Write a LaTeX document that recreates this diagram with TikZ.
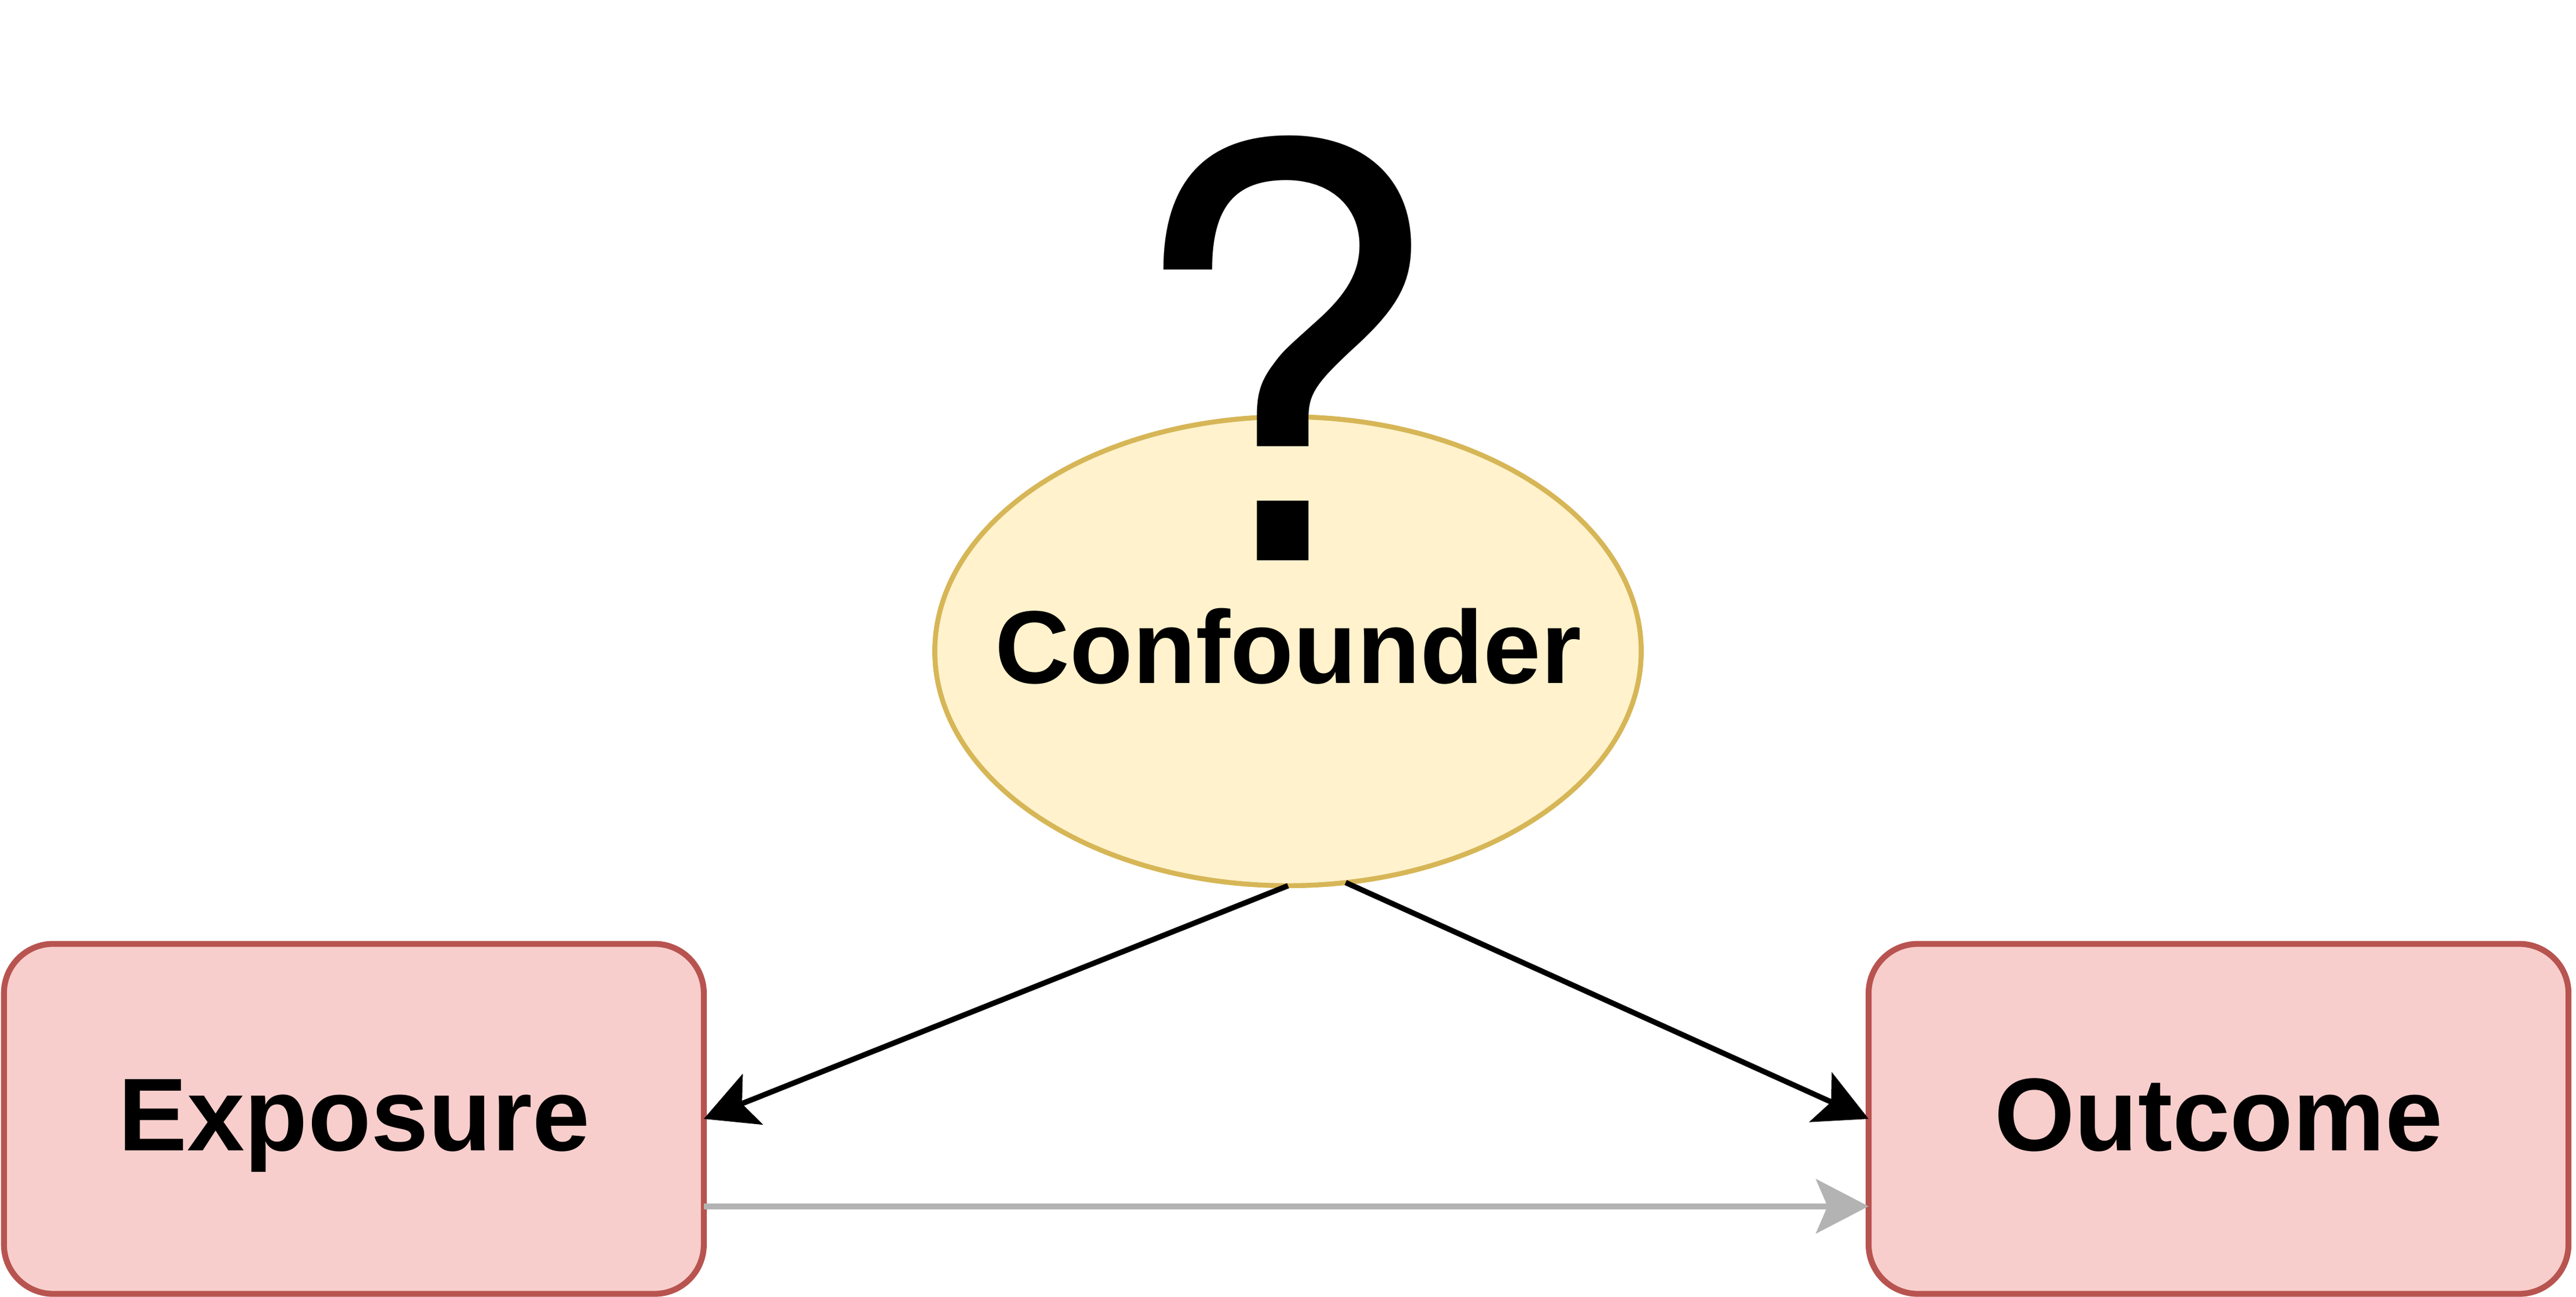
\documentclass[tikz,border=0pt]{standalone}
\usepackage{fontspec}
\setmainfont{Liberation Sans}
\newfontfamily\qmarkfont{TeX Gyre Heros}
\usetikzlibrary{shapes.geometric,arrows.meta}
\definecolor{boxfill}{HTML}{F8CECC}
\definecolor{boxline}{HTML}{B85450}
\definecolor{conffill}{HTML}{FFF2CC}
\definecolor{confline}{HTML}{D6B656}
\definecolor{directline}{HTML}{B3B3B3}

\begin{document}
\begin{tikzpicture}[x=1pt,y=1pt,
		varbox/.style={rectangle,rounded corners=30pt,draw=boxline,fill=boxfill,
			line width=3.6pt,minimum width=426pt,minimum height=213pt,
			inner sep=0pt,outer sep=0pt,font=\fontsize{63}{70}\selectfont\bfseries,
			text height=52pt,text depth=13pt},
		confbox/.style={ellipse,draw=confline,fill=conffill,line width=3pt,
			minimum width=430pt,minimum height=285.4pt,inner sep=0pt,outer sep=0pt},
		causal/.style={-{Stealth[length=32pt,width=33pt,inset=7pt]},line width=3.3pt}]
		\useasboundingbox (0,0) rectangle (1568,789.33);
		% Exposure and outcome boxes
		\node[varbox] (E) at (215.4,108.4) {Exposure};
		\node[varbox] (O) at (1350.4,108.4) {Outcome};
		% Confounder ellipse with question mark
		\node[confbox,label={[font=\fontsize{63}{70}\selectfont\bfseries,
			text height=52pt,text depth=13pt]center:Confounder}] (C) at (784,393) {};
		\node[anchor=base,inner sep=0pt,font=\fontsize{349}{349}\qmarkfont] (Q) at (781,448.3) {?};
		% Arrows
		\draw[causal] (C.south) -- (E.east);
		\draw[causal] (C.-76) -- (O.west);
		\draw[causal,draw=directline,line width=3.5pt] ([yshift=-53.2pt]E.east) -- ([yshift=-53.2pt]O.west);
	\end{tikzpicture}
\end{document}
